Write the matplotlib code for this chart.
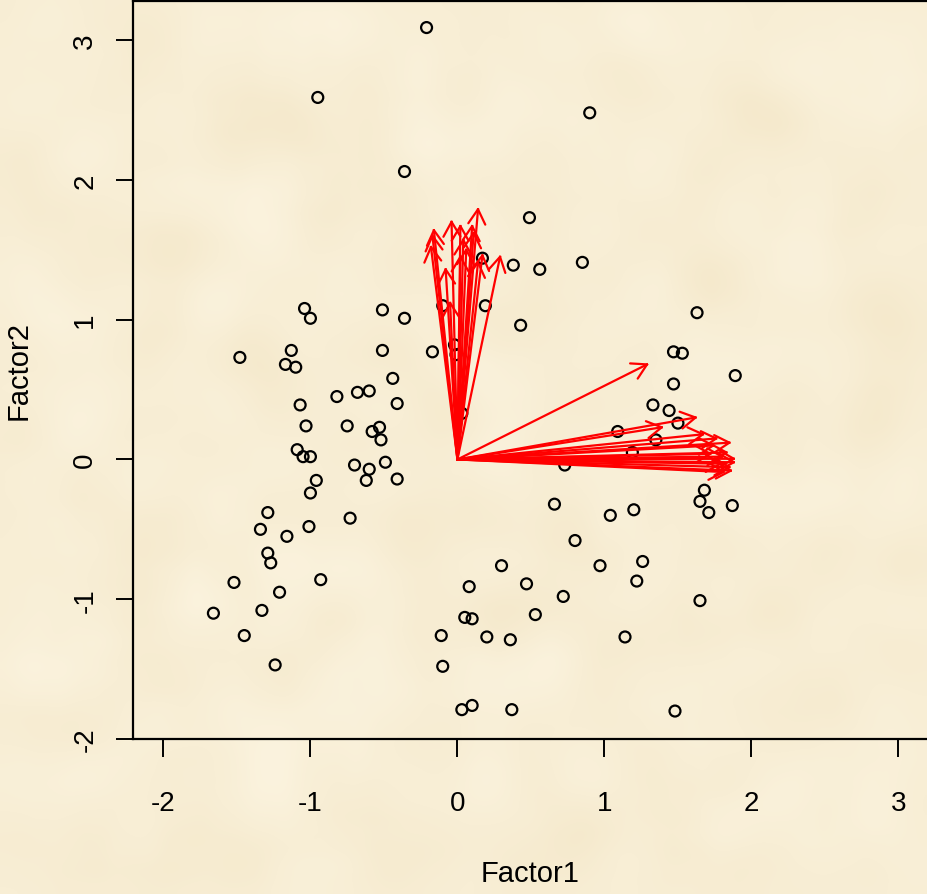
import numpy as np
import matplotlib
matplotlib.use("Agg")
import matplotlib.pyplot as plt

# factor scores (one circle per observation)
score_x = [-0.21, -0.95, 0.90, -0.36, 0.49, 0.38, 0.56, 0.85, 0.17, 0.19,
           -0.10, 0.43, -0.17, -0.02, -0.01, 1.63, 1.47, 1.53, 1.47, 1.89,
           1.33, 1.44, 1.50, 1.09, 1.35, 1.19, 0.73, 0.03, 1.68, 1.65,
           1.71, 1.87, 0.66, 1.04, 1.20, 0.80, 0.30, 0.97, 1.26, 0.08,
           0.47, 1.22, 0.72, 0.53, 0.05, 0.10, 1.65, -0.11, 0.20, 0.36,
           1.14, -0.10, 0.03, 0.10, 0.37, 1.48, -1.04, -1.00, -0.51, -0.36,
           -1.13, -1.48, -1.17, -1.10, -0.51, -0.44, -0.82, -0.68, -0.60, -0.41,
           -1.07, -1.03, -0.75, -0.53, -0.58, -0.52, -1.09, -1.05, -1.00, -0.70,
           -0.60, -0.49, -0.96, -0.62, -0.41, -1.00, -1.29, -1.34, -1.16, -1.01,
           -0.73, -1.29, -1.27, -1.52, -0.93, -1.21, -1.66, -1.33, -1.45, -1.24]
score_y = [3.09, 2.59, 2.48, 2.06, 1.73, 1.39, 1.36, 1.41, 1.44, 1.10,
           1.10, 0.96, 0.77, 0.82, 0.75, 1.05, 0.77, 0.76, 0.54, 0.60,
           0.39, 0.35, 0.26, 0.20, 0.14, 0.05, -0.04, 0.33, -0.22, -0.30,
           -0.38, -0.33, -0.32, -0.40, -0.36, -0.58, -0.76, -0.76, -0.73, -0.91,
           -0.89, -0.87, -0.98, -1.11, -1.13, -1.14, -1.01, -1.26, -1.27, -1.29,
           -1.27, -1.48, -1.79, -1.76, -1.79, -1.80, 1.08, 1.01, 1.07, 1.01,
           0.78, 0.73, 0.68, 0.66, 0.78, 0.58, 0.45, 0.48, 0.49, 0.40,
           0.39, 0.24, 0.24, 0.23, 0.20, 0.14, 0.07, 0.02, 0.02, -0.04,
           -0.07, -0.02, -0.15, -0.15, -0.14, -0.24, -0.38, -0.50, -0.55, -0.48,
           -0.42, -0.67, -0.74, -0.88, -0.86, -0.95, -1.10, -1.08, -1.26, -1.47]

# variable loadings drawn as arrows from the origin
load_x = [0.14, -0.04, 0.02, -0.16, 0.10, -0.17, -0.18, 0.04, 0.11, 0.06,
          -0.08, 0.29, 0.17, 0.14, 0.02, -0.05,
          1.29, 1.62, 1.39, 1.67, 1.76, 1.85, 1.74, 1.88, 1.85, 1.81,
          1.79, 1.72, 1.83, 1.88, 1.86, 1.80]
load_y = [1.79, 1.70, 1.67, 1.64, 1.67, 1.60, 1.52, 1.57, 1.62, 1.50,
          1.36, 1.45, 1.46, 1.41, 1.45, 1.12,
          0.68, 0.30, 0.23, 0.18, 0.15, 0.12, 0.10, 0.005, -0.055, -0.09,
          -0.03, 0.04, 0.05, -0.02, -0.08, 0.02]

x_ticks = [-2, -1, 0, 1, 2, 3]
y_ticks = [-2, -1, 0, 1, 2, 3]

W, H = 927, 895
bg = "#f9f0da"
plt.rcParams["font.family"] = ["Liberation Sans", "DejaVu Sans"]

fig = plt.figure(figsize=(W / 100, H / 100), dpi=100, facecolor=bg)

# faint parchment mottling behind everything
rng = np.random.default_rng(7)
noise = rng.normal(size=(90, 93))
k = np.ones(5) / 5
for _ in range(2):
    noise = np.apply_along_axis(lambda r: np.convolve(r, k, mode="same"), 1, noise)
    noise = np.apply_along_axis(lambda c: np.convolve(c, k, mode="same"), 0, noise)
noise = (noise - noise.min()) / (noise.max() - noise.min())
base = np.array([251, 243, 222]) / 255
dark = np.array([245, 233, 204]) / 255
tex = base[None, None, :] * (1 - noise[..., None]) + dark[None, None, :] * noise[..., None]
bax = fig.add_axes([0, 0, 1, 1], zorder=-5)
bax.imshow(tex, aspect="auto", interpolation="bicubic", extent=[0, 1, 0, 1])
bax.axis("off")

# plot box in pixel terms: left 133, right just past the edge, top 2, bottom 740
left, right, top, bottom = 133, 930, 2, 740
ax = fig.add_axes([left / W, 1 - bottom / H, (right - left) / W, (bottom - top) / H])
ax.patch.set_alpha(0)

x0 = -2.207
ppu_x = 147.0
ylo, yhi = -2.0, 3.28
ppu_y = (bottom - top) / (yhi - ylo)
ax.set_xlim(x0, x0 + (right - left) / ppu_x)
ax.set_ylim(ylo, yhi)

ax.scatter(score_x, score_y, s=62, facecolors="none", edgecolors="black",
           linewidths=1.6, zorder=2)

# arrows: shaft plus two open wings, 17 px long at +-30 degrees
wing = 17.0
for lx, ly in zip(load_x, load_y):
    ax.plot([0, lx], [0, ly], color="red", lw=1.6, zorder=3)
    ang = np.arctan2(ly * ppu_y, lx * ppu_x)
    for d in (np.pi - np.pi / 6, np.pi + np.pi / 6):
        wx = lx + wing * np.cos(ang + d) / ppu_x
        wy = ly + wing * np.sin(ang + d) / ppu_y
        ax.plot([lx, wx], [ly, wy], color="red", lw=1.6, zorder=3,
                solid_capstyle="round")

for s in ax.spines.values():
    s.set_linewidth(1.6)
ax.spines["right"].set_visible(False)

ax.set_xticks(x_ticks)
ax.set_yticks(y_ticks)
ax.set_xticklabels([str(t) for t in x_ticks])
ax.set_yticklabels([str(t) for t in y_ticks], rotation=90, va="center")
ax.tick_params(axis="x", direction="out", length=13, width=1.4, pad=24, labelsize=20)
ax.tick_params(axis="y", direction="out", length=12, width=1.4, pad=13, labelsize=20)

fig.text(530 / W, 1 - 874 / H, "Factor1", fontsize=21, ha="center", va="center")
fig.text(19 / W, 1 - 371 / H, "Factor2", fontsize=21, ha="center", va="center",
         rotation=90)

fig.savefig("out.png", dpi=100, facecolor=bg)
